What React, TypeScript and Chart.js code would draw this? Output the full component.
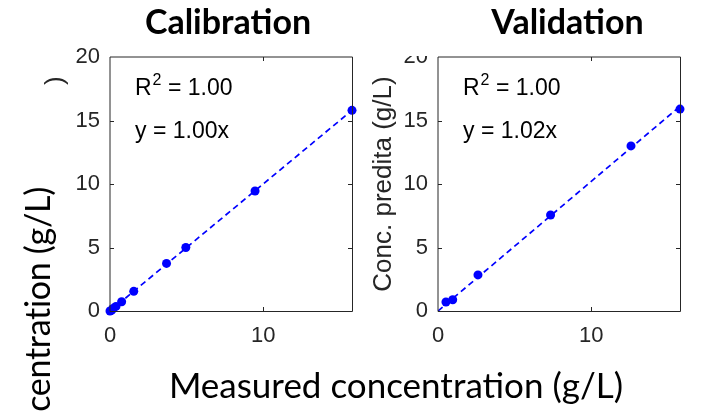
import React, { useEffect, useRef } from "react";
import { Chart, registerables } from "chart.js";

Chart.register(...registerables);

// ---- data ----
const calibMeasured = [0, 0.1, 0.2, 0.39, 0.76, 1.55, 3.69, 4.95, 9.47, 15.8];
const calibPredicted = [0, 0.05, 0.2, 0.36, 0.73, 1.55, 3.75, 5.0, 9.45, 15.8];
const validMeasured = [0.52, 0.96, 2.61, 7.35, 12.6, 15.8];
const validPredicted = [0.71, 0.89, 2.84, 7.56, 13.0, 15.9];

const calibR2 = 1.0;
const calibSlope = 1.0;
const validR2 = 1.0;
const validSlope = 1.02;

const xTicks = [0, 10];
const yTicks = [0, 5, 10, 15, 20];
const xRange = [0, 15.8];
const yRange = [0, 20];

const panelTitles = ["Calibration", "Validation"];
const yAxisTitle = "Conc. predita (g/L)";
const sharedXTitle = "Measured concentration (g/L)";
const sharedYTitle = "Predicted concentration (g/L)";

// ---- styling ----
const BLUE = "#0000ff";
const AXIS_TEXT = "#262626";
const SANS = "'Liberation Sans', Arial, sans-serif";
const HUMANIST = "Lato, 'Open Sans', sans-serif";

type PanelLayout = {
  left: number;
  width: number;
  yAxisWidth: number;
  padRight: number;
  titleX: number;
  yTitlePad: number;
  coverTitle: boolean;
};

const layouts: PanelLayout[] = [
  { left: 0, width: 361, yAxisWidth: 110, padRight: 9, titleX: 228, yTitlePad: 40, coverTitle: false },
  { left: 361, width: 362, yAxisWidth: 77, padRight: 43, titleX: 206.5, yTitlePad: 7, coverTitle: true },
];

type PanelData = {
  title: string;
  measured: number[];
  predicted: number[];
  r2: number;
  slope: number;
};

const panels: PanelData[] = [
  { title: panelTitles[0], measured: calibMeasured, predicted: calibPredicted, r2: calibR2, slope: calibSlope },
  { title: panelTitles[1], measured: validMeasured, predicted: validPredicted, r2: validR2, slope: validSlope },
];

// Box outline, inward tick marks, panel title and the fit annotation.
const panelDecor = {
  id: "panelDecor",
  afterDraw(chart: any, _args: any, opts: any) {
    const { ctx, chartArea: a, scales } = chart;
    const xs = scales.x;
    const ys = scales.y;
    ctx.save();

    // axes box
    ctx.lineWidth = 1;
    ctx.strokeStyle = AXIS_TEXT;
    ctx.beginPath();
    ctx.moveTo(a.left, a.bottom + 0.5);
    ctx.lineTo(a.left, a.top);
    ctx.lineTo(a.right + 0.5, a.top);
    ctx.stroke();
    ctx.beginPath();
    ctx.moveTo(a.right + 0.5, a.top);
    ctx.lineTo(a.right + 0.5, a.bottom + 0.5);
    ctx.lineTo(a.left, a.bottom + 0.5);
    ctx.stroke();

    // inward ticks
    const tl = 4;
    ctx.beginPath();
    xs.ticks.forEach((t: any) => {
      const px = Math.round(xs.getPixelForValue(t.value)) + 0.5;
      if (px <= a.left + 1 || px >= a.right - 1) return;
      ctx.moveTo(px, a.bottom);
      ctx.lineTo(px, a.bottom - tl);
      ctx.moveTo(px, a.top);
      ctx.lineTo(px, a.top + tl);
    });
    ys.ticks.forEach((t: any) => {
      const py = Math.round(ys.getPixelForValue(t.value)) + 0.5;
      if (py <= a.top + 1 || py >= a.bottom - 1) return;
      ctx.moveTo(a.left, py);
      ctx.lineTo(a.left + tl, py);
      ctx.moveTo(a.right, py);
      ctx.lineTo(a.right - tl, py);
    });
    ctx.stroke();

    // title block
    if (opts.coverTitle) {
      ctx.fillStyle = "#ffffff";
      ctx.fillRect(a.left - 50, 0, a.right - a.left + 90, a.top - 1);
    }
    ctx.fillStyle = "#000000";
    ctx.font = `bold 34px ${HUMANIST}`;
    ctx.textAlign = "center";
    ctx.textBaseline = "alphabetic";
    ctx.fillText(opts.title, opts.titleX, 34);

    // fit annotation
    const x0 = a.left + 25;
    ctx.textAlign = "left";
    ctx.fillStyle = "#000000";
    ctx.font = `23px ${SANS}`;
    ctx.fillText("R", x0, 95);
    const wR = ctx.measureText("R").width;
    ctx.font = `16px ${SANS}`;
    ctx.fillText("2", x0 + wR + 1, 85);
    const w2 = ctx.measureText("2").width;
    ctx.font = `23px ${SANS}`;
    ctx.fillText(` = ${opts.r2.toFixed(2)}`, x0 + wR + 1 + w2, 95);
    ctx.fillText(`y = ${opts.slope.toFixed(2)}x`, x0, 138);

    ctx.restore();
  },
};

function makePanel(canvas: HTMLCanvasElement, data: PanelData, lay: PanelLayout) {
  const points = data.measured.map((m, i) => ({ x: m, y: data.predicted[i] }));
  const fitEnd = data.measured[data.measured.length - 1];
  const fit = [
    { x: 0, y: 0 },
    { x: fitEnd, y: data.slope * fitEnd },
  ];
  return new Chart(canvas, {
    type: "scatter",
    data: {
      datasets: [
        {
          label: "fit",
          data: fit,
          showLine: true,
          borderColor: BLUE,
          borderWidth: 1.7,
          borderDash: [6, 4],
          pointRadius: 0,
          order: 1,
        },
        {
          label: "samples",
          data: points,
          pointRadius: 4.5,
          pointBackgroundColor: BLUE,
          pointBorderWidth: 0,
          clip: false,
          order: 2,
        },
      ],
    },
    options: {
      responsive: false,
      animation: false,
      events: [],
      layout: { padding: { top: 57, right: lay.padRight, left: 0, bottom: 0 } },
      plugins: {
        legend: { display: false },
        tooltip: { enabled: false },
        title: { display: false },
        panelDecor: {
          title: data.title,
          titleX: lay.titleX,
          coverTitle: lay.coverTitle,
          r2: data.r2,
          slope: data.slope,
        },
      } as any,
      scales: {
        x: {
          type: "linear",
          min: xRange[0],
          max: xRange[1],
          afterBuildTicks: (s: any) => {
            s.ticks = xTicks.map((v) => ({ value: v }));
          },
          afterFit: (s: any) => {
            s.height = 100;
          },
          grid: { display: false, drawTicks: false },
          border: { display: false },
          ticks: { padding: 12, color: AXIS_TEXT, font: { family: SANS, size: 22 } },
        },
        y: {
          type: "linear",
          min: yRange[0],
          max: yRange[1],
          afterBuildTicks: (s: any) => {
            s.ticks = yTicks.map((v) => ({ value: v }));
          },
          afterFit: (s: any) => {
            s.width = lay.yAxisWidth;
          },
          grid: { display: false, drawTicks: false },
          border: { display: false },
          ticks: { padding: 10, color: AXIS_TEXT, font: { family: SANS, size: 22 } },
          title: {
            display: true,
            text: yAxisTitle,
            color: AXIS_TEXT,
            font: { family: SANS, size: 26 },
            padding: { top: lay.yTitlePad, bottom: 0 },
          },
        },
      },
    },
    plugins: [panelDecor],
  });
}

export default function App() {
  const leftRef = useRef<HTMLCanvasElement>(null);
  const rightRef = useRef<HTMLCanvasElement>(null);

  useEffect(() => {
    const refs = [leftRef.current!, rightRef.current!];
    const charts = refs.map((c, i) => makePanel(c, panels[i], layouts[i]));
    return () => charts.forEach((c) => c.destroy());
  }, []);

  return (
    <div
      style={{
        position: "fixed",
        left: 0,
        top: 0,
        width: 723,
        height: 411,
        overflow: "hidden",
        background: "#ffffff",
      }}
    >
      {layouts.map((lay, i) => (
        <canvas
          key={i}
          ref={i === 0 ? leftRef : rightRef}
          width={lay.width}
          height={411}
          style={{ position: "absolute", left: lay.left, top: 0, width: lay.width, height: 411 }}
        />
      ))}

      {/* shared y-axis caption, drawn in a white text box over the left panel */}
      <div
        style={{
          position: "absolute",
          left: 0,
          top: 506,
          width: 420,
          height: 72,
          background: "#ffffff",
          transform: "rotate(-90deg)",
          transformOrigin: "0 0",
        }}
      >
        <span
          style={{
            position: "absolute",
            right: 101,
            top: 20,
            fontFamily: HUMANIST,
            fontSize: 34,
            lineHeight: "34px",
            letterSpacing: "-0.3px",
            whiteSpace: "nowrap",
            color: "#000",
          }}
        >
          {sharedYTitle}
        </span>
      </div>

      {/* shared x-axis caption */}
      <div
        style={{
          position: "absolute",
          left: -4,
          width: 800,
          top: 367,
          textAlign: "center",
          fontFamily: HUMANIST,
          fontSize: 35,
          lineHeight: "35px",
          whiteSpace: "nowrap",
          color: "#000",
        }}
      >
        {sharedXTitle}
      </div>
    </div>
  );
}
